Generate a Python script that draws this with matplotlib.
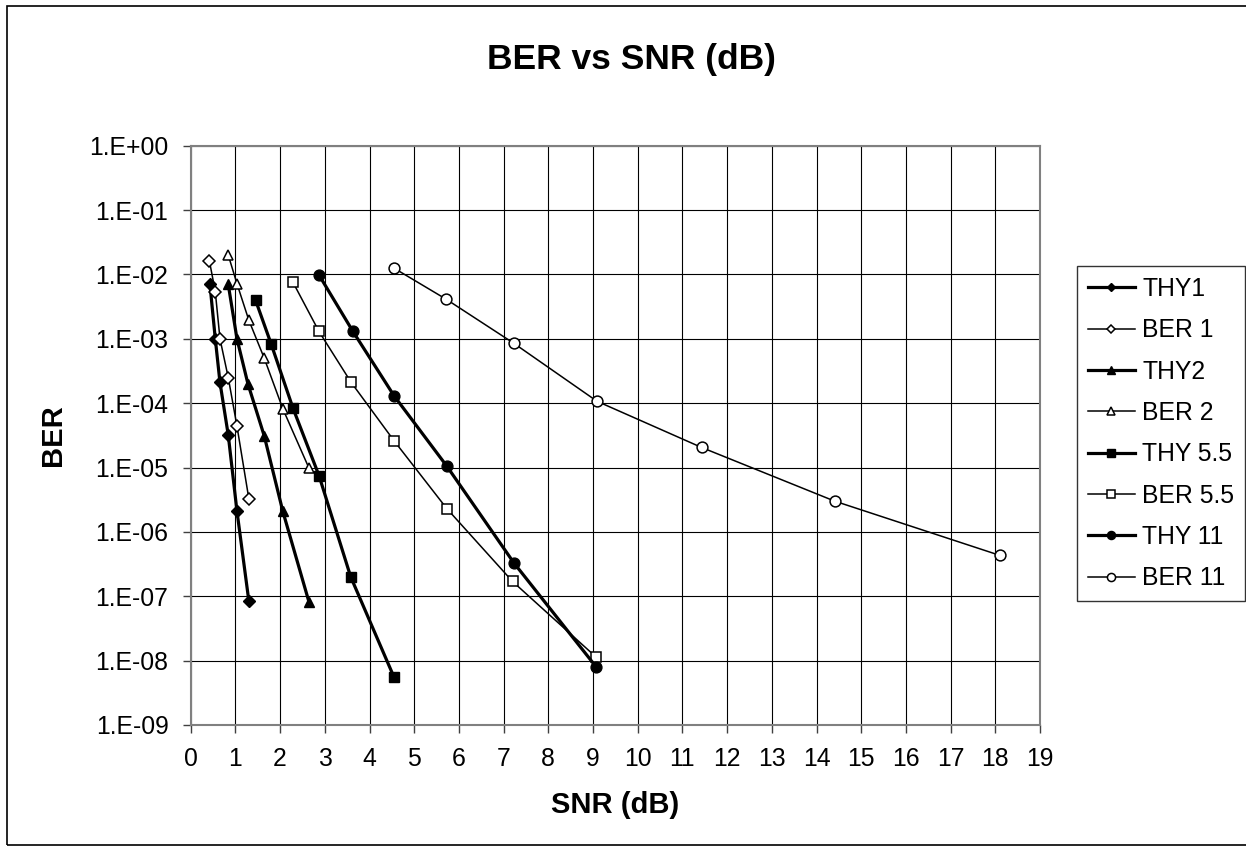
import numpy as np
import matplotlib
matplotlib.use("Agg")
import matplotlib.pyplot as plt
from matplotlib.patches import Rectangle
from matplotlib.ticker import FixedLocator, FuncFormatter, NullLocator

plt.rcParams['font.family'] = ['Liberation Sans', 'DejaVu Sans']

# data (SNR on x, BER on y)
thy1_x = [0.43, 0.55, 0.655, 0.84, 1.035, 1.30]
thy1_y = [7.1e-3, 1.0e-3, 2.1e-4, 3.2e-5, 2.1e-6, 8.5e-8]
ber1_x = [0.42, 0.55, 0.655, 0.84, 1.035, 1.30]
ber1_y = [1.6e-2, 5.4e-3, 1.0e-3, 2.5e-4, 4.4e-5, 3.3e-6]

thy2_x = [0.84, 1.035, 1.28, 1.645, 2.06, 2.645]
thy2_y = [7.0e-3, 1.0e-3, 2.0e-4, 3.1e-5, 2.1e-6, 8.2e-8]
ber2_x = [0.84, 1.04, 1.30, 1.645, 2.06, 2.64]
ber2_y = [2.0e-2, 7.0e-3, 1.95e-3, 5.0e-4, 8.2e-5, 1.0e-5]

thy55_x = [1.45, 1.80, 2.29, 2.87, 3.58, 4.55]
thy55_y = [4.0e-3, 8.3e-4, 8.3e-5, 7.5e-6, 2.0e-7, 5.5e-9]
ber55_x = [2.29, 2.87, 3.59, 4.55, 5.73, 7.20, 9.06]
ber55_y = [7.5e-3, 1.3e-3, 2.1e-4, 2.6e-5, 2.3e-6, 1.7e-7, 1.15e-8]

thy11_x = [2.87, 3.63, 4.55, 5.73, 7.23, 9.07]
thy11_y = [9.8e-3, 1.3e-3, 1.3e-4, 1.05e-5, 3.3e-7, 8.0e-9]
ber11_x = [4.55, 5.72, 7.23, 9.09, 11.43, 14.41, 18.11]
ber11_y = [1.25e-2, 4.1e-3, 8.5e-4, 1.07e-4, 2.05e-5, 3.0e-6, 4.3e-7]

x_ticks = list(range(0, 20))
y_ticks = [1e0, 1e-1, 1e-2, 1e-3, 1e-4, 1e-5, 1e-6, 1e-7, 1e-8, 1e-9]

W, H = 1246, 848
fig = plt.figure(figsize=(W / 100, H / 100), dpi=100)
ax = fig.add_axes([190.7 / W, 1 - 725 / H, (1040 - 190.7) / W, (725 - 145.7) / H])

thick = dict(color='black', lw=2.3)
thin = dict(color='black', lw=1.1)

ax.plot(thy1_x, thy1_y, marker='D', ms=5.8, mfc='black', mec='black', label='THY1', **thick)
ax.plot(ber1_x, ber1_y, marker='D', ms=5.8, mfc='white', mec='black', mew=1.1, label='BER 1', **thin)
ax.plot(thy2_x, thy2_y, marker='^', ms=7.0, mfc='black', mec='black', label='THY2', **thick)
ax.plot(ber2_x, ber2_y, marker='^', ms=7.5, mfc='white', mec='black', mew=1.1, label='BER 2', **thin)
ax.plot(thy55_x, thy55_y, marker='s', ms=7.2, mfc='black', mec='black', label='THY 5.5', **thick)
ax.plot(ber55_x, ber55_y, marker='s', ms=7.2, mfc='white', mec='black', mew=1.1, label='BER 5.5', **thin)
ax.plot(thy11_x, thy11_y, marker='o', ms=7.8, mfc='black', mec='black', label='THY 11', **thick)
ax.plot(ber11_x, ber11_y, marker='o', ms=7.8, mfc='white', mec='black', mew=1.1, label='BER 11', **thin)

ax.set_yscale('log')
ax.set_xlim(0, 19)
ax.set_ylim(1e-9, 1)
ax.xaxis.set_major_locator(FixedLocator(x_ticks))
ax.yaxis.set_major_locator(FixedLocator(y_ticks))
ax.yaxis.set_minor_locator(NullLocator())
ax.yaxis.set_major_formatter(FuncFormatter(lambda v, p: "1.E%+03d" % int(round(np.log10(v)))))
ax.grid(True, color='black', lw=0.8)
ax.set_axisbelow(True)
for s in ax.spines.values():
    s.set_color('#808080')
    s.set_linewidth(1.5)
ax.tick_params(axis='both', labelsize=17.8, length=6, width=1, color='#404040', pad=10)

ax.set_xlabel('SNR (dB)', fontsize=21, fontweight='bold', labelpad=14)
ax.set_ylabel('BER', fontsize=21, fontweight='bold', labelpad=16)
fig.text(631 / W, 1 - 59 / H, 'BER vs SNR (dB)', fontsize=25.5, fontweight='bold',
         ha='center', va='center')

leg = ax.legend(loc='upper left', bbox_to_anchor=(1076.7 / W, 1 - 266 / H),
                bbox_transform=fig.transFigure, fontsize=17.8, frameon=True,
                fancybox=False, borderaxespad=0, handlelength=1.9, handletextpad=0.3,
                labelspacing=0.7, borderpad=0.45, markerscale=0.75)
leg.get_frame().set_edgecolor('black')
leg.get_frame().set_linewidth(1.0)

fig.patches.append(Rectangle((7 / W, 1 - 845 / H), 1.1, (845 - 6) / H, transform=fig.transFigure,
                             fill=False, edgecolor='black', lw=1.2, clip_on=False))

fig.savefig('out.png', dpi=100)
